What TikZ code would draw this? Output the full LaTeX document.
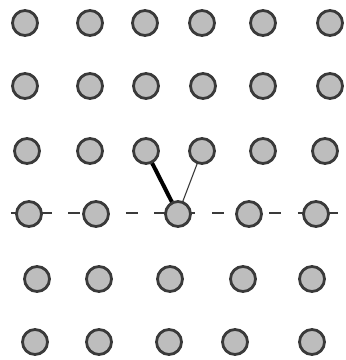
\documentclass[tikz,border=0pt]{standalone}
\definecolor{dotfill}{HTML}{BDBDBD}
\definecolor{dotline}{HTML}{3A3A3A}
\begin{document}
\begin{tikzpicture}[x=1pt,y=-1pt,
  dot/.style={circle,draw=dotline,fill=dotfill,line width=2.8pt,minimum size=25pt,inner sep=0pt},
  axisline/.style={draw=dotline,line width=2.4pt,dash pattern=on 12pt off 16.7pt},
  thickbond/.style={draw=black,line width=4pt},
  thinbond/.style={draw=dotline,line width=1.1pt}]
\useasboundingbox (0,0) rectangle (346,360);
% row 4 (positions first, for lines behind)
\coordinate (L) at (11,213);
\coordinate (R) at (338,213);
\path[axisline] (L) -- (R);
\coordinate (p31) at (146,151);
\coordinate (p32) at (202,151);
\coordinate (p43) at (178,214);
\path[thickbond] (p31) -- (p43);
\path[thinbond] (p32) -- (p43);
% row 1
\node[dot] (a1) at (25,23) {};
\node[dot] (a2) at (90,23) {};
\node[dot] (a3) at (145,23) {};
\node[dot] (a4) at (202,23) {};
\node[dot] (a5) at (263,23) {};
\node[dot] (a6) at (330,23) {};
% row 2
\node[dot] (b1) at (25,86) {};
\node[dot] (b2) at (90,86) {};
\node[dot] (b3) at (146,86) {};
\node[dot] (b4) at (203,86) {};
\node[dot] (b5) at (263,86) {};
\node[dot] (b6) at (330,86) {};
% row 3
\node[dot] (c1) at (27,151) {};
\node[dot] (c2) at (90,151) {};
\node[dot] (c3) at (p31) {};
\node[dot] (c4) at (p32) {};
\node[dot] (c5) at (263,151) {};
\node[dot] (c6) at (325,151) {};
% row 4
\node[dot] (d1) at (29,214) {};
\node[dot] (d2) at (96,214) {};
\node[dot] (d3) at (p43) {};
\node[dot] (d4) at (249,214) {};
\node[dot] (d5) at (316,214) {};
% row 5
\node[dot] (e1) at (37,279) {};
\node[dot] (e2) at (99,279) {};
\node[dot] (e3) at (170,279) {};
\node[dot] (e4) at (243,279) {};
\node[dot] (e5) at (312,279) {};
% row 6
\node[dot] (f1) at (35,342) {};
\node[dot] (f2) at (99,342) {};
\node[dot] (f3) at (169,342) {};
\node[dot] (f4) at (235,342) {};
\node[dot] (f5) at (312,342) {};
\end{tikzpicture}
\end{document}
